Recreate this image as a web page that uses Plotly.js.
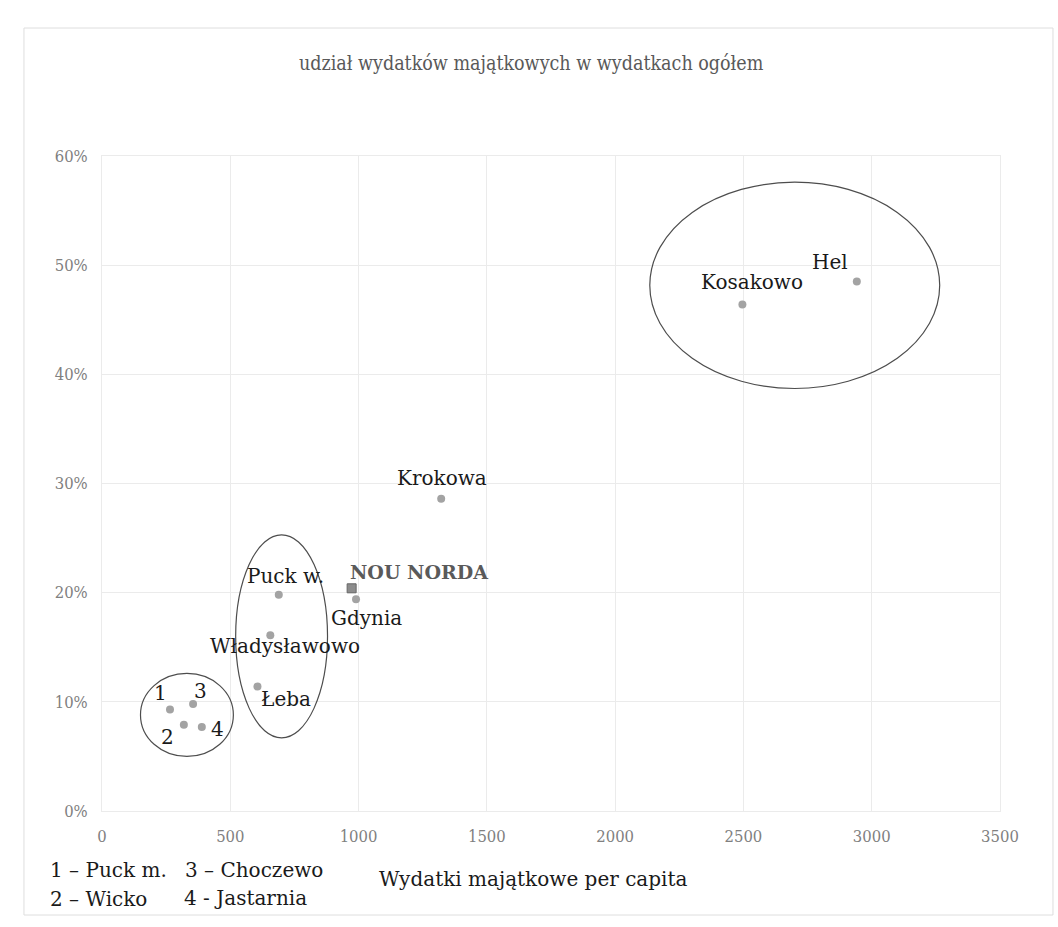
<!DOCTYPE html>
<html>
<head>
<meta charset="utf-8">
<script src="https://cdn.plot.ly/plotly-3.0.1.min.js"></script>
<style>
  html, body { margin: 0; padding: 0; background: #ffffff; }
  #chart { width: 1058px; height: 927px; }
</style>
</head>
<body>
<div id="chart"></div>
<script>
// ---------- data ----------
const names     = ['Hel', 'Kosakowo', 'Krokowa', 'Gdynia', 'Puck w.', 'Władysławowo', 'Łeba', '1', '2', '3', '4'];
const perCapita = [2942, 2496, 1322, 990, 689, 656, 606, 265, 319, 355, 389];
const share     = [0.485, 0.464, 0.286, 0.194, 0.198, 0.161, 0.114, 0.093, 0.079, 0.098, 0.077];

const nordaName = ['NOU NORDA'];
const nordaX    = [973];
const nordaY    = [0.204];

// clusters circled on the chart: [x from, x to, share from, share to]
const clusterX0 = [2135, 521, 150];
const clusterX1 = [3265, 879, 512];
const clusterY0 = [0.387, 0.067, 0.050];
const clusterY1 = [0.576, 0.253, 0.126];

const keyLines = ['1 – Puck m.', '3 – Choczewo', '2 – Wicko', '4 - Jastarnia'];

const chartTitle = 'udział wydatków majątkowych w wydatkach ogółem';
const xTitle = 'Wydatki majątkowe per capita';

// ---------- presentation ----------
const SERIF = 'DejaVu Serif, Liberation Serif, serif';
const COND  = 'DejaVu Serif Condensed, DejaVu Serif, Liberation Serif, serif';

// label offsets (px) relative to each point, same order as names
const labelOffsets = [
  [-27, -20], [10, -22], [1, -21], [10, 19], [7, -19], [15, 11], [29, 12],
  [-9, -16], [-16, 12], [7, -13], [16, 2]
];
const nordaOffset = [67, -16];

const keyPos = [
  [-0.0606, -0.0908], [0.0902, -0.0901], [-0.0596, -0.1351], [0.0891, -0.1328]
];

const traces = [
  {
    type: 'scatter', mode: 'markers',
    x: perCapita, y: share, text: names,
    marker: { color: '#a3a3a3', size: 8 },
    hoverinfo: 'text+x+y', showlegend: false
  },
  {
    type: 'scatter', mode: 'markers',
    x: nordaX, y: nordaY, text: nordaName,
    marker: { color: '#8c8c8c', size: 9, symbol: 'square', line: { color: '#666666', width: 1 } },
    hoverinfo: 'text+x+y', showlegend: false
  }
];

const annotations = [];
names.forEach((n, i) => {
  annotations.push({
    x: perCapita[i], y: share[i], xref: 'x', yref: 'y',
    text: n, showarrow: false,
    xshift: labelOffsets[i][0], yshift: -labelOffsets[i][1],
    xanchor: 'center', yanchor: 'middle',
    font: { family: SERIF, size: 20, color: '#1a1a1a' }
  });
});
annotations.push({
  x: nordaX[0], y: nordaY[0], xref: 'x', yref: 'y',
  text: '<b>' + nordaName[0] + '</b>', showarrow: false,
  xshift: nordaOffset[0], yshift: -nordaOffset[1],
  xanchor: 'center', yanchor: 'middle',
  font: { family: SERIF, size: 19, color: '#5a5a5a' }
});
annotations.push({
  x: 0.48, y: -0.1038, xref: 'paper', yref: 'paper',
  text: xTitle, showarrow: false, xanchor: 'center', yanchor: 'middle',
  font: { family: SERIF, size: 20, color: '#1a1a1a' }
});
keyLines.forEach((t, i) => {
  annotations.push({
    x: keyPos[i][0], y: keyPos[i][1], xref: 'paper', yref: 'paper',
    text: t, showarrow: false, xanchor: 'left', yanchor: 'middle',
    font: { family: SERIF, size: 20, color: '#1a1a1a' }
  });
});

const shapes = [
  { type: 'rect', xref: 'paper', yref: 'paper', x0: -0.0869, x1: 1.059, y0: -0.1588, y1: 1.1954,
    line: { color: '#dedede', width: 1 }, layer: 'below' }
];
clusterX0.forEach((x0, i) => {
  shapes.push({
    type: 'circle', xref: 'x', yref: 'y',
    x0: x0, x1: clusterX1[i], y0: clusterY0[i], y1: clusterY1[i],
    line: { color: '#4d4d4d', width: 1.2 }
  });
});

const axisCommon = {
  showgrid: true, gridcolor: '#ebebeb', gridwidth: 1,
  zeroline: false, showline: true, linecolor: '#ebebeb', mirror: true,
  ticks: '', ticklabelstandoff: 10,
  tickfont: { family: COND, size: 16.5, color: '#808080' },
  fixedrange: true
};

const layout = {
  width: 1058, height: 927,
  margin: { l: 102, r: 58, t: 156, b: 116, pad: 0 },
  paper_bgcolor: '#ffffff', plot_bgcolor: '#ffffff',
  title: {
    text: chartTitle, x: 0.502, xanchor: 'center',
    y: 0.932, yanchor: 'middle', yref: 'container',
    font: { family: COND, size: 19.5, color: '#595959' }
  },
  xaxis: Object.assign({}, axisCommon, { range: [0, 3500], tick0: 0, dtick: 500 }),
  yaxis: Object.assign({}, axisCommon, { range: [0, 0.6], tick0: 0, dtick: 0.1, tickformat: '.0%' }),
  annotations: annotations,
  shapes: shapes,
  showlegend: false
};

Plotly.newPlot('chart', traces, layout, { displayModeBar: false, staticPlot: false });
</script>
</body>
</html>
